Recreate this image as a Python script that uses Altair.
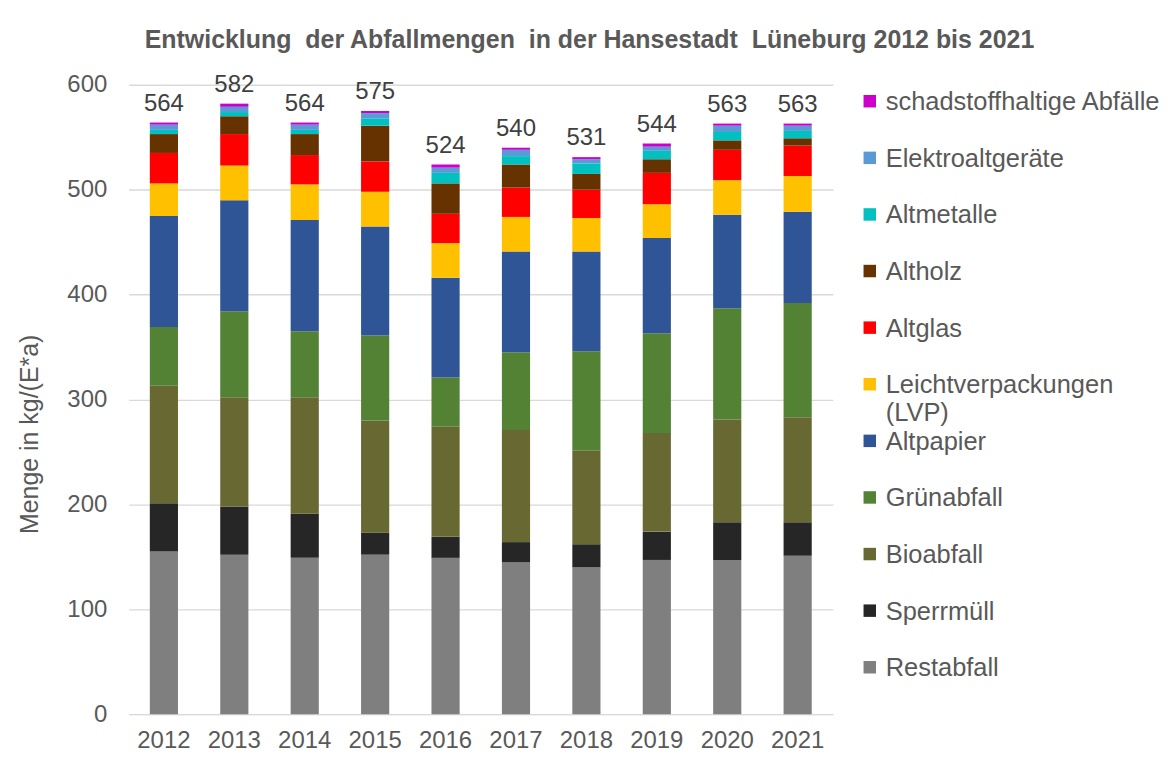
import altair as alt
import pandas as pd

years = ["2012", "2013", "2014", "2015", "2016", "2017", "2018", "2019", "2020", "2021"]

restabfall = [155, 152, 149, 152, 149, 145, 140, 147, 147, 151]
sperrmuell = [46, 46, 42, 21, 20, 19, 22, 27, 36, 32]
bioabfall = [112, 104, 111, 107, 105, 107, 89, 94, 98, 100]
gruenabfall = [56, 82, 63, 81, 47, 74, 95, 95, 106, 109]
altpapier = [106, 106, 106, 104, 95, 96, 95, 91, 89, 87]
lvp = [31, 33, 34, 33, 33, 33, 32, 32, 33, 34]
altglas = [29, 30, 28, 29, 28, 28, 27, 30, 29, 29]
altholz = [18, 17, 20, 34, 29, 22, 15, 13, 9, 7]
altmetalle = [4, 4, 4, 7, 10, 8, 10, 8, 8, 7]
elektro = [5, 5, 5, 5, 5, 6, 4, 4, 6, 5]
schadstoff = [2, 3, 2, 2, 3, 2, 2, 3, 2, 2]

totals = [564, 582, 564, 575, 524, 540, 531, 544, 563, 563]

# bottom-up stacking order
series_names = [
    "Restabfall", "Sperrmüll", "Bioabfall", "Grünabfall", "Altpapier",
    "Leichtverpackungen (LVP)", "Altglas", "Altholz", "Altmetalle",
    "Elektroaltgeräte", "schadstoffhaltige Abfälle",
]
series_values = [restabfall, sperrmuell, bioabfall, gruenabfall, altpapier,
                 lvp, altglas, altholz, altmetalle, elektro, schadstoff]
series_colors = ["#7F7F7F", "#262626", "#686832", "#548235", "#2F5597",
                 "#FFC000", "#FF0000", "#663300", "#00C0C0", "#5B9BD5", "#CC00CC"]

legend_labels = {
    "Leichtverpackungen (LVP)": "Leichtverpackungen\n(LVP)",
}

FONT = "Liberation Sans"
TXT = "#595959"

rows = []
for i, (name, vals) in enumerate(zip(series_names, series_values)):
    for y, v in zip(years, vals):
        rows.append({"year": y, "series": name, "value": v, "order": i})
df = pd.DataFrame(rows)

tot_df = pd.DataFrame({"year": years, "total": totals})

legend_order = list(reversed(series_names))
leg_df = pd.DataFrame({
    "series": legend_order,
    "label": [legend_labels.get(n, n) for n in legend_order],
})

color_scale = alt.Scale(domain=series_names, range=series_colors)

x_enc = alt.X(
    "year:N", title=None,
    scale=alt.Scale(paddingInner=0.6, paddingOuter=0.3),
    axis=alt.Axis(labelAngle=0, labelFontSize=24, labelColor=TXT, labelFont=FONT,
                  labelPadding=14, ticks=False, tickSize=0, domainColor="#D9D9D9",
                  domainWidth=1, grid=False),
)

bars = alt.Chart(df).mark_bar().encode(
    x=x_enc,
    y=alt.Y(
        "value:Q", stack="zero",
        scale=alt.Scale(domain=[0, 600], nice=False),
        axis=alt.Axis(values=[0, 100, 200, 300, 400, 500, 600], title="Menge in kg/(E*a)",
                      titleFontSize=25, titleFontWeight="normal", titleColor=TXT,
                      titleFont=FONT, titleX=-91, titleY=350, titleAngle=-90,
                      titleBaseline="alphabetic", titleAlign="center",
                      labelFontSize=24, labelColor=TXT, labelFont=FONT, labelPadding=22,
                      ticks=False, tickSize=0, domain=False, gridColor="#D9D9D9",
                      gridWidth=1.3),
    ),
    color=alt.Color("series:N", scale=color_scale, legend=None),
    order=alt.Order("order:Q", sort="ascending"),
)

labels = alt.Chart(tot_df).mark_text(
    baseline="alphabetic", dy=-12, fontSize=24, font=FONT, color="#404040"
).encode(
    x=alt.X("year:N"),
    y=alt.Y("total:Q"),
    text=alt.Text("total:Q"),
)

main = alt.layer(bars, labels).properties(width=706, height=631)

leg_y = alt.Y("series:N", sort=legend_order, axis=None,
              scale=alt.Scale(type="point", range=[16.5, 584], padding=0))

leg_sq = alt.Chart(leg_df).mark_square(size=156, opacity=1).encode(
    x=alt.value(6),
    y=leg_y,
    color=alt.Color("series:N", scale=color_scale, legend=None),
)
leg_tx = alt.Chart(leg_df).mark_text(
    align="left", baseline="alphabetic", dy=9, fontSize=25.5, font=FONT,
    color=TXT, lineBreak="\n", lineHeight=28,
).encode(
    x=alt.value(22),
    y=leg_y,
    text=alt.Text("label:N"),
)
legend = alt.layer(leg_sq, leg_tx).properties(width=290, height=631)

chart = alt.hconcat(main, legend, spacing=31, bounds="flush").properties(
    title=alt.TitleParams(
        "Entwicklung\u00a0 der Abfallmengen\u00a0 in der Hansestadt\u00a0 Lüneburg 2012 bis 2021",
        fontSize=25, fontWeight="bold", color=TXT, font=FONT, anchor="middle",
        offset=20,
    ),
    padding={"left": 10, "top": 18, "right": 5, "bottom": 5},
    background="white",
).configure_view(stroke=None)

chart.save("out.html", embed_options={"renderer": "svg", "actions": False})
